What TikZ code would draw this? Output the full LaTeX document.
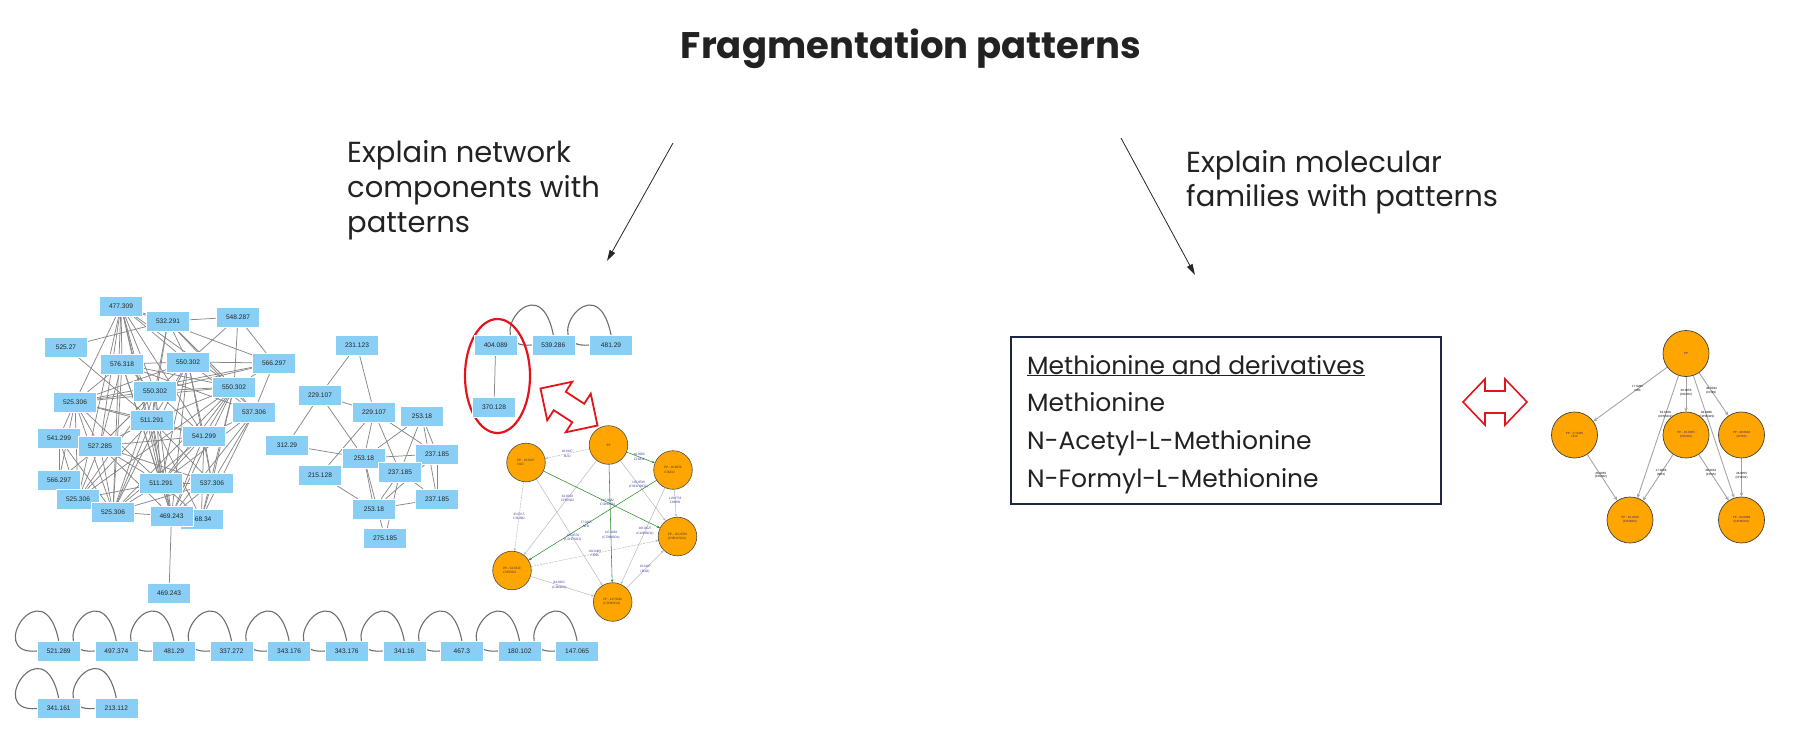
\documentclass[tikz,border=0pt]{standalone}
\usepackage{fontspec}
\setmainfont{Poppins}
\newfontfamily\arialf{Liberation Sans}
\newfontfamily\timesf{Liberation Serif}
\usetikzlibrary{arrows.meta,calc,backgrounds}
\definecolor{boxblue}{RGB}{136,206,245}
\definecolor{netgray}{RGB}{135,135,135}
\definecolor{loopgray}{RGB}{110,110,110}
\definecolor{orng}{RGB}{255,165,0}
\definecolor{lgray}{RGB}{185,185,185}
\definecolor{rgray}{RGB}{165,165,165}
\definecolor{dgreen}{RGB}{45,140,45}
\definecolor{navyt}{RGB}{40,40,150}
\definecolor{purpt}{RGB}{70,30,130}
\definecolor{boxnavy}{RGB}{30,38,70}
\definecolor{txt}{RGB}{34,34,34}
\definecolor{redarr}{RGB}{228,20,28}
\begin{document}
\begin{tikzpicture}[x=1pt,y=-1pt,
  mz/.style={rectangle, fill=boxblue, draw=white, line width=0.4pt, minimum width=43pt, minimum height=20pt, inner sep=0pt, font=\arialf\fontsize{6.6}{7}\selectfont, text=black!85},
  net/.style={draw=netgray, line width=0.75pt},
  loopline/.style={draw=loopgray, line width=1.1pt},
  ornm/.style={circle, fill=orng, draw=black!70, line width=0.6pt, minimum size=38.6pt, inner sep=0pt, align=left, font=\timesf\fontsize{3.3}{4.2}\selectfont, text=black!80},
  ornr/.style={circle, fill=orng, draw=black!75, line width=0.7pt, minimum size=46pt, inner sep=0pt, align=center, font=\arialf\fontsize{3}{3.8}\selectfont, text=purpt},
  ledge/.style={draw=lgray, line width=0.5pt, -{Stealth[length=3pt,width=2.6pt]}},
  gedge/.style={draw=dgreen, line width=0.55pt, -{Stealth[length=3pt,width=2.6pt]}},
  redge/.style={draw=rgray, line width=0.9pt, -{Stealth[length=4pt,width=3.6pt]}},
  elab/.style={font=\timesf\fontsize{3.4}{4.3}\selectfont, text=navyt, align=center, inner sep=0.3pt},
  rlab/.style={font=\arialf\fontsize{3}{3.8}\selectfont, text=black, align=center, inner sep=0.3pt},
  callout/.style={font=\fontsize{29}{34}\selectfont, text=txt, anchor=base west, inner sep=0pt},
  famtext/.style={font=\fontsize{25}{30}\selectfont, text=txt, anchor=base west, inner sep=0pt},
  pointer/.style={draw=black!85, line width=0.8pt, -{Triangle[length=11pt,width=6pt]}}
]
\useasboundingbox (0,0) rectangle (1797,745);

% ---------------- title and callouts ----------------
\node[font=\fontsize{37}{40}\selectfont\bfseries, text=txt, anchor=base, inner sep=0pt] (title) at (911,58) {Fragmentation patterns};

\node[callout] (ex1a) at (347,162) {Explain network};
\node[callout] (ex1b) at (347,197) {components with};
\node[callout] (ex1c) at (347,232) {patterns};
\coordinate (p1s) at (673,143);
\coordinate (p1e) at (607,261);
\draw[pointer] (p1s) -- (p1e);

\node[callout] (ex2a) at (1186,172) {Explain molecular};
\node[callout] (ex2b) at (1186,206) {families with patterns};
\coordinate (p2s) at (1121,138);
\coordinate (p2e) at (1195,275);
\draw[pointer] (p2s) -- (p2e);

% ---------------- molecular family box ----------------
\node[draw=boxnavy, line width=2pt, minimum width=430pt, minimum height=167pt, inner sep=0pt] (famBox) at (1226,420.5) {};
\node[famtext] (f0) at (1027,374) {\underline{Methionine and derivatives}};
\node[famtext] (f1) at (1027,411) {Methionine};
\node[famtext] (f2) at (1027,449) {N-Acetyl-L-Methionine};
\node[famtext] (f3) at (1027,487) {N-Formyl-L-Methionine};

% ---------------- red double arrows ----------------
\begin{scope}[shift={(1495,402)}]
\draw[redarr, line width=1.6pt, fill=white, line join=miter] (-32,0) -- (-10,-23) -- (-10,-11) -- (10,-11) -- (10,-23) -- (32,0) -- (10,23) -- (10,11) -- (-10,11) -- (-10,23) -- cycle;
\end{scope}
\begin{scope}[shift={(569,407)}, rotate=-33]
\draw[redarr, line width=1.8pt, fill=white, line join=miter] (-34,0) -- (-11,-23) -- (-11,-11) -- (11,-11) -- (11,-23) -- (34,0) -- (11,23) -- (11,11) -- (-11,11) -- (-11,23) -- cycle;
\end{scope}
\draw[redarr, line width=2.2pt] (497.5,376) ellipse [x radius=32.5, y radius=57];

% ---------------- cluster 1 ----------------
\node[mz] (a1) at (121,306) {477.309};
\node[mz] (a2) at (168,321) {532.291};
\node[mz] (a3) at (238,317) {548.287};
\node[mz] (a4) at (66,347) {525.27};
\node[mz] (a5) at (122,364) {576.318};
\node[mz] (a6) at (188,362) {550.302};
\node[mz] (a7) at (274,363) {566.297};
\node[mz] (a8) at (155,391) {550.302};
\node[mz] (a9) at (234,387) {550.302};
\node[mz] (a10) at (75,402) {525.306};
\node[mz] (a11) at (152,420) {511.291};
\node[mz] (a12) at (254,412) {537.306};
\node[mz] (a13) at (59,438) {541.299};
\node[mz] (a14) at (100,446) {527.285};
\node[mz] (a15) at (204,436) {541.299};
\node[mz] (a16) at (59,480) {566.297};
\node[mz] (a17) at (161,483) {511.291};
\node[mz] (a18) at (212,483) {537.306};
\node[mz] (a19) at (78,499) {525.306};
\node[mz] (a20) at (113,512) {525.306};
\node[mz] (a22) at (201.3,519) {468.34};
\node[mz] (a21) at (171.5,516) {469.243};
\node[mz] (a23) at (169,593) {469.243};

% ---------------- cluster 2 ----------------
\node[mz] (b1) at (357,345) {231.123};
\node[mz] (b2) at (320,395) {229.107};
\node[mz] (b3) at (374,412) {229.107};
\node[mz] (b4) at (422,416) {253.18};
\node[mz] (b5) at (287,445) {312.29};
\node[mz] (b6) at (364,458) {253.18};
\node[mz] (b7) at (437,454) {237.185};
\node[mz] (b8) at (400,472) {237.185};
\node[mz] (b9) at (320,475) {215.128};
\node[mz] (b10) at (437,499) {237.185};
\node[mz] (b11) at (374,509) {253.18};
\node[mz] (b12) at (385,538) {275.185};

% ---------------- small components ----------------
\node[mz] (s1) at (495.7,345) {404.089};
\node[mz] (s2) at (553.3,345) {539.286};
\node[mz] (s3) at (611,345) {481.29};
\node[mz] (s4) at (494,407) {370.128};

\node[mz] (r1) at (58.7,651) {521.289};
\node[mz] (r2) at (116.3,651) {497.374};
\node[mz] (r3) at (173.9,651) {481.29};
\node[mz] (r4) at (231.5,651) {337.272};
\node[mz] (r5) at (289.1,651) {343.176};
\node[mz] (r6) at (346.7,651) {343.176};
\node[mz] (r7) at (404.3,651) {341.16};
\node[mz] (r8) at (461.9,651) {467.3};
\node[mz] (r9) at (519.5,651) {180.102};
\node[mz] (r10) at (577.1,651) {147.065};
\node[mz] (q1) at (58.7,708.5) {341.161};
\node[mz] (q2) at (116.3,708.5) {213.112};

% ---------------- middle pattern graph ----------------
\node[ornm, align=center] (c0) at (608.5,445) {PP};
\node[ornm] (c1) at (526,462.5) {PP - 18.0107\\H2O};
\node[ornm] (c2) at (673,470) {PP - 46.0056\\CH2O2};
\node[ornm] (c3) at (677.5,536.5) {PP - 165.0789\\(C9H11NO2)};
\node[ornm] (c4) at (512,570.5) {PP - 63.0320\\CH5NO2};
\node[ornm] (c5) at (612.7,602) {PP - 147.0682\\(C5H9NO4)};

% ---------------- right pattern graph ----------------
\node[ornr] (d0) at (1686,353.5) {PP};
\node[ornr] (d1) at (1574.5,435) {PP - 17.0265\\NH3};
\node[ornr] (d2) at (1686,435) {PP - 46.0055\\(CH2O2)};
\node[ornr] (d3) at (1741.5,435) {PP - 48.0034\\(CH4S)};
\node[ornr] (d4) at (1630,520) {PP - 63.0320\\(CH5NO2)};
\node[ornr] (d5) at (1741.5,520) {PP - 94.0089\\(C2H6O2S)};

\begin{pgfonlayer}{background}
% cluster 1 edges
\foreach \s/\t in {a1/a2,a1/a5,a1/a6,a1/a7,a1/a8,a1/a9,a1/a10,a1/a11,a1/a14,a1/a15,a1/a17,a1/a19,a1/a20,a1/a21,
  a2/a3,a2/a4,a2/a6,a2/a9,a2/a11,a2/a12,a2/a8,
  a3/a6,a3/a9,a3/a7,a4/a11,
  a5/a6,a5/a9,a5/a10,a5/a14,a5/a17,a5/a20,a5/a21,a5/a12,a5/a8,
  a6/a7,a6/a8,a6/a10,a6/a11,a6/a15,a6/a17,a6/a18,a6/a21,a6/a20,a6/a12,
  a7/a9,a7/a10,a7/a8,a7/a12,
  a8/a9,a8/a10,a8/a11,a8/a14,a8/a17,a8/a19,a8/a20,a8/a21,a8/a15,
  a9/a10,a9/a11,a9/a15,a9/a17,a9/a18,a9/a19,a9/a20,a9/a21,a9/a12,a9/a22,
  a10/a11,a10/a13,a10/a14,a10/a16,a10/a19,a10/a20,a10/a15,a10/a17,
  a11/a14,a11/a15,a11/a17,a11/a18,a11/a19,a11/a20,a11/a21,a11/a22,
  a12/a15,a12/a18,a12/a21,a12/a22,a12/a17,
  a13/a14,a13/a16,a13/a19,a13/a20,
  a14/a15,a14/a16,a14/a17,a14/a18,a14/a19,a14/a20,a14/a21,
  a15/a17,a15/a18,a15/a20,a15/a21,a15/a22,
  a16/a19,a16/a20,
  a17/a18,a17/a19,a17/a20,a17/a21,a17/a22,
  a18/a21,a18/a22,a18/a20,
  a19/a20,a20/a21,a21/a23,a21/a22}
  \draw[net] (\s) -- (\t);
% cluster 2 edges
\foreach \s/\t in {b1/b2,b1/b3,b2/b3,b2/b5,b2/b6,b3/b9,b3/b6,b3/b8,b3/b7,b4/b6,b4/b8,b4/b10,b4/b7,
  b5/b6,b6/b7,b6/b11,b6/b12,b7/b10,b7/b8,b8/b11,b8/b10,b8/b12,b9/b11,b10/b11,b7/b11}
  \draw[net] (\s) -- (\t);
\draw[net] (s1) -- (s4);
% self loops
\foreach \n in {s2,s3,r1,r2,r3,r4,r5,r6,r7,r8,r9,r10,q1,q2}
  \draw[loopline] (\n.west) .. controls ($(\n)+(-75,5)$) and ($(\n)+(-15,-85)$) .. (\n.north);

% middle graph edges
\draw[ledge, dashed, dash pattern=on 2pt off 1pt] (c0) -- node[elab]{18.0107\\H2O} (c1);
\draw[gedge] (c0) -- node[elab, pos=0.45]{46.0056\\CH2O2} (c2);
\draw[ledge] (c0) -- node[elab, pos=0.4]{63.0320\\CH5NO2} (c4);
\draw[ledge] (c0) -- node[elab, pos=0.4]{165.0789\\(C9H11NO2)} (c3);
\draw[gedge] (c1) -- node[elab, pos=0.55]{147.0682\\C5H9NO4} (c3);
\draw[gedge] (c2) -- node[elab, pos=0.55]{17.0265\\NH3} (c4);
\draw[ledge] (c2) -- node[elab, pos=0.4]{119.0733\\C8H9N} (c3);
\draw[ledge, dashed, dash pattern=on 2pt off 1pt] (c1) -- node[elab]{45.0215\\CH3NO} (c4);
\draw[ledge] (c1) -- node[elab, pos=0.55]{129.0576\\(C5H7NO3)} (c5);
\draw[ledge] (c2) -- node[elab, pos=0.45]{101.0627\\(C4H9NO2)} (c5);
\draw[ledge, dashed, dash pattern=on 2pt off 1pt] (c4) -- node[elab, pos=0.5]{102.0469\\C8H6} (c3);
\draw[ledge] (c4) -- node[elab, pos=0.45]{84.0362\\(C4H4O2)} (c5);
\draw[ledge] (c5) -- node[elab, pos=0.5]{18.0107\\(H2O)} (c3);
\draw[gedge] (c0) -- node[elab, pos=0.6]{147.0682\\(C5H9NO4)} (c5);

% right graph edges
\draw[redge] (d0) -- node[rlab, pos=0.4]{17.0265\\NH3} (d1);
\draw[redge] (d0) -- node[rlab, pos=0.45]{46.0055\\(CH2O2)} (d2);
\draw[redge] (d0) -- node[rlab, pos=0.42]{48.0034\\(CH4S)} (d3);
\draw[redge] (d0) -- node[rlab, pos=0.32]{63.0320\\(CH5NO2)} (d4);
\draw[redge] (d0) -- node[rlab, pos=0.32]{94.0089\\(C2H6O2S)} (d5);
\draw[redge] (d1) -- node[rlab, pos=0.45]{46.0055\\(CH2O2)} (d4);
\draw[redge] (d2) -- node[rlab, pos=0.4]{17.0265\\(NH3)} (d4);
\draw[redge] (d2) -- node[rlab, pos=0.4]{48.0034\\(CH4S)} (d5);
\draw[redge] (d3) -- node[rlab, pos=0.45]{46.0055\\(CH2O2)} (d5);
\end{pgfonlayer}
\end{tikzpicture}
\end{document}
